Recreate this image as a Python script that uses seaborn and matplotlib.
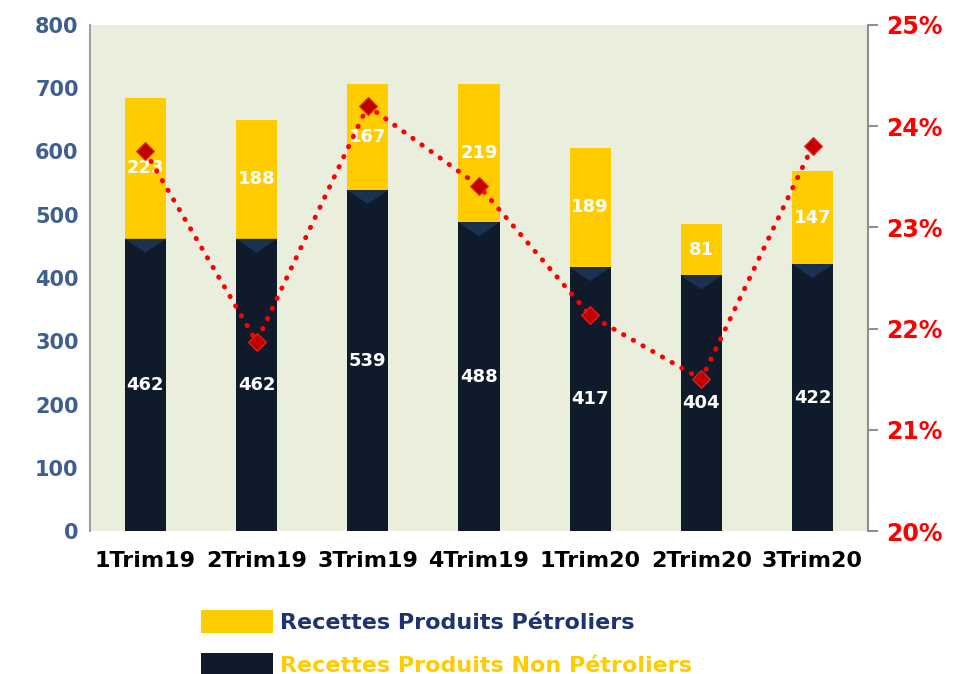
import matplotlib
matplotlib.use("Agg")
import matplotlib.pyplot as plt
import matplotlib.patches as mpatches
import numpy as np
import pandas as pd
import seaborn as sns

# data
quarters = ["1Trim19", "2Trim19", "3Trim19", "4Trim19", "1Trim20", "2Trim20", "3Trim20"]
non_petrol = [462, 462, 539, 488, 417, 404, 422]
petrol = [223, 188, 167, 219, 189, 81, 147]
ratio_pct = [23.75, 21.87, 24.2, 23.41, 22.13, 21.5, 23.8]

YELLOW = "#FFCC00"
DARK = "#0F1A2B"
BG = "#EAEEDD"
NAVY = "#1F3370"

sns.set_theme(style="white")
plt.rcParams["font.family"] = ["DejaVu Sans"]

df = pd.DataFrame({
    "quarter": quarters,
    "non_petrol": non_petrol,
    "petrol": petrol,
})
df["total"] = df["non_petrol"] + df["petrol"]

fig = plt.figure(figsize=(9.55, 6.74), dpi=100)
ax = fig.add_axes([0.094, 0.212, 0.815, 0.751])
ax.set_facecolor(BG)

bw = 0.37
sns.barplot(data=df, x="quarter", y="total", color=YELLOW, width=bw,
            saturation=1, linewidth=0, ax=ax, zorder=2)
sns.barplot(data=df, x="quarter", y="non_petrol", color=DARK, width=bw,
            saturation=1, linewidth=0, ax=ax, zorder=3)

# bevel highlight at the top of the dark bars
for i, n in enumerate(non_petrol):
    ax.fill([i - bw / 2, i + bw / 2, i], [n, n, n - 22], color="#1C3050",
            lw=0, zorder=3.5)

# value labels
for i, (n, p) in enumerate(zip(non_petrol, petrol)):
    ax.text(i, n / 2, str(n), color="white", ha="center", va="center",
            fontsize=13, fontweight="bold", zorder=6)
    ax.text(i, n + p / 2, str(p), color="white", ha="center", va="center",
            fontsize=13, fontweight="bold", zorder=6)

ax.set_ylim(0, 800)
ax.set_xlim(-0.5, len(quarters) - 0.5)
ax.set_yticks(np.arange(0, 801, 100))
ax.set_xlabel("")
ax.set_ylabel("")
ax.tick_params(axis="y", colors="#3F5F8F", labelsize=15, length=0, pad=8)
ax.tick_params(axis="x", colors="black", labelsize=16, length=0, pad=14)
for lab in ax.get_yticklabels() + ax.get_xticklabels():
    lab.set_fontweight("bold")
for side in ["top", "right", "bottom"]:
    ax.spines[side].set_visible(False)
ax.spines["left"].set_color("#A0A0A0")
ax.spines["left"].set_linewidth(1.5)

# ratio line on right axis
ax2 = ax.twinx()
ax2.plot(range(len(quarters)), ratio_pct, color="red", lw=3.5,
         linestyle=(0, (0.1, 2.2)), dash_capstyle="round", zorder=4)
ax2.scatter(range(len(quarters)), ratio_pct, marker="D", s=80,
            color="#C00000", edgecolor="#E02020", linewidth=1, zorder=5)
ax2.set_ylim(20, 25)
ax2.set_yticks(np.arange(20, 26, 1))
ax2.set_yticklabels([f"{v}%" for v in range(20, 26)])
ax2.tick_params(axis="y", colors="red", labelsize=17, length=7,
                width=1.5, direction="out", pad=6)
for lab in ax2.get_yticklabels():
    lab.set_fontweight("bold")
    lab.set_color("red")
ax2.tick_params(axis="y", color="#909090")
for side in ["top", "left", "bottom"]:
    ax2.spines[side].set_visible(False)
ax2.spines["right"].set_color("#909090")
ax2.spines["right"].set_linewidth(1.5)
ax2.set_xlim(-0.5, len(quarters) - 0.5)

# legend below the chart
handles = [
    mpatches.Patch(facecolor=YELLOW, edgecolor="none", label="Recettes Produits Pétroliers"),
    mpatches.Patch(facecolor=DARK, edgecolor="none", label="Recettes Produits Non Pétroliers"),
]
leg = fig.legend(handles=handles, loc="upper left", bbox_to_anchor=(0.19, 0.125),
                 frameon=False, handlelength=3.2, handleheight=1.2,
                 labelspacing=0.9, handletextpad=0.35,
                 prop={"weight": "bold", "size": 16})
leg.get_texts()[0].set_color(NAVY)
leg.get_texts()[1].set_color(YELLOW)

fig.savefig("out.png", dpi=100)
